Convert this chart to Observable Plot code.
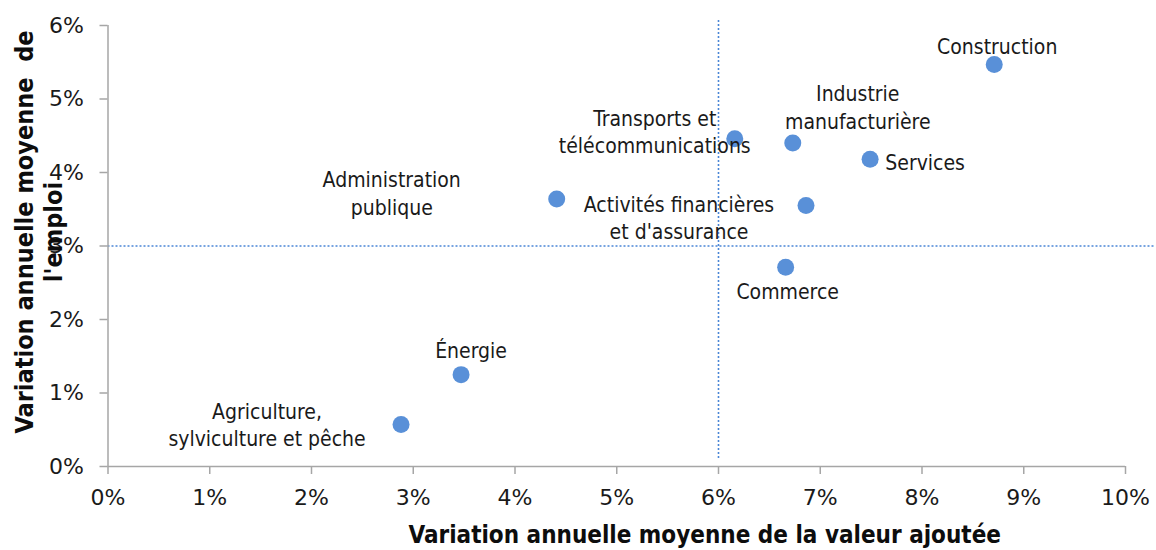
<!DOCTYPE html>
<html>
<head>
<meta charset="utf-8">
<script src="https://cdn.jsdelivr.net/npm/d3@7"></script>
<script src="https://cdn.jsdelivr.net/npm/@observablehq/plot@0.6"></script>
<style>
  html, body { margin: 0; padding: 0; background: #fff; }
  #chart svg { display: block; }
</style>
</head>
<body>
<div id="chart"></div>
<script>
// Sectors
const sectors = [
  "Construction",
  "Industrie\nmanufacturière",
  "Transports et\ntélécommunications",
  "Services",
  "Activités financières\net d'assurance",
  "Administration\npublique",
  "Commerce",
  "Énergie",
  "Agriculture,\nsylviculture et pêche"
];
// Average annual growth of value added (%)
const valueAdded = [8.71, 6.73, 6.16, 7.49, 6.86, 4.41, 6.66, 3.47, 2.88];
// Average annual growth of employment (%)
const employment = [5.47, 4.40, 4.46, 4.18, 3.55, 3.64, 2.71, 1.25, 0.57];

const xTicks = [0, 1, 2, 3, 4, 5, 6, 7, 8, 9, 10];
const yTicks = [0, 1, 2, 3, 4, 5, 6];
const refX = 6;   // vertical reference line (%)
const refY = 3;   // horizontal reference line (%)

const xTitle = "Variation annuelle moyenne de la valeur ajoutée";
const yTitle = "Variation annuelle moyenne  de\nl'emploi";

// label pixel offsets relative to each dot (style, not data)
const labelOffsets = [
  [3, -19], [65, -37], [-80, -8], [55, 2], [-127, 11],
  [-165, -7], [2, 23], [10, -25], [-134, -1]
];

const data = sectors.map((s, i) => ({sector: s, x: valueAdded[i], y: employment[i]}));

const FONT = "'DejaVu Sans Condensed', 'DejaVu Sans', sans-serif";
const dotColor = "#5990d8";
const refColor = "#4a86d6";
const axisColor = "#a6a6a6";

const labelMarks = data.map((d, i) => Plot.text([d], {
  x: "x", y: "y", text: "sector",
  dx: labelOffsets[i][0], dy: labelOffsets[i][1],
  fontSize: 21, lineHeight: 1.31, fill: "#1a1a1a",
  fontFamily: FONT, fontStretch: "condensed"
}));

const chart = Plot.plot({
  width: 1156,
  height: 550,
  marginLeft: 107.5,
  marginRight: 31,
  marginTop: 25,
  marginBottom: 84,
  style: {fontFamily: "'DejaVu Sans', sans-serif", background: "#fff", color: "#1a1a1a"},
  x: {domain: [0, 10], label: null},
  y: {domain: [0, 6], label: null},
  marks: [
    Plot.axisX({ticks: xTicks, tickFormat: d => d + "%", tickSize: 8, tickPadding: 15, fontSize: 22, stroke: axisColor, strokeWidth: 1.5, label: null, fill: "#1a1a1a"}),
    Plot.axisY({ticks: yTicks, tickFormat: d => d + "%", tickSize: 8, tickPadding: 16, fontSize: 22, stroke: axisColor, strokeWidth: 1.5, label: null, fill: "#1a1a1a"}),
    // reference lines
    Plot.ruleY([refY], {x1: 0, x2: 10.29, stroke: refColor, strokeWidth: 1.6, strokeDasharray: "2,2", clip: false}),
    Plot.ruleX([refX], {y1: 0.11, y2: 6.07, stroke: refColor, strokeWidth: 1.6, strokeDasharray: "2,2", clip: false}),
    // axis lines
    Plot.ruleX([0], {stroke: axisColor, strokeWidth: 1.5}),
    Plot.ruleY([0], {stroke: axisColor, strokeWidth: 1.5}),
    Plot.dot(data, {x: "x", y: "y", r: 8.5, fill: dotColor, stroke: null}),
    ...labelMarks,
    // axis titles
    Plot.text([xTitle], {frameAnchor: "bottom", dx: 88, dy: 69, fontSize: 24, fontWeight: "bold",
      fontFamily: FONT, fontStretch: "condensed", fill: "#0d0d0d", lineAnchor: "middle"}),
    Plot.text([yTitle], {frameAnchor: "left", rotate: -90, dx: -70, dy: -14, fontSize: 25, fontWeight: "bold",
      textAnchor: "middle", lineAnchor: "middle",
      lineHeight: 1.16, fontFamily: FONT, fontStretch: "condensed", fill: "#0d0d0d"})
  ]
});

document.getElementById("chart").appendChild(chart);
</script>
</body>
</html>
